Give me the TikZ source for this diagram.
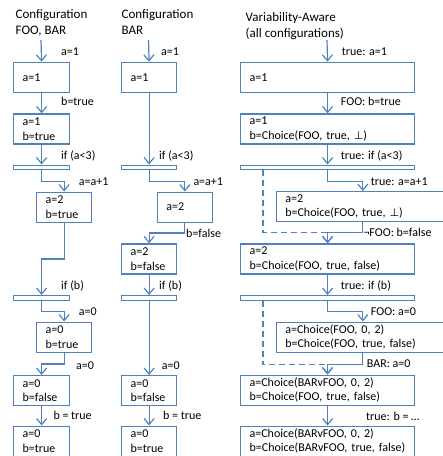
\documentclass[tikz,border=0pt]{standalone}
\usepackage{fontspec}
\setmainfont{Carlito}
\newfontfamily\symfont{DejaVu Sans}
\usetikzlibrary{arrows.meta}
\definecolor{flowblue}{RGB}{79,129,189}
\newcommand{\bottomval}{{\symfont\fontsize{11}{14.6}\selectfont ⊥}}

\begin{document}
\begin{tikzpicture}[x=1pt, y=-1pt,
	every node/.style={font=\fontsize{12}{14.6}\selectfont},
	blk/.style={draw=flowblue, line width=1.2pt, fill=white, anchor=north west, minimum height=30pt, inner xsep=9pt, inner ysep=0pt, align=left},
	bar/.style={draw=flowblue, line width=1.2pt, fill=white, anchor=north west, minimum height=4.5pt, inner sep=0pt},
	flow/.style={draw=flowblue, line width=1.2pt, -{Straight Barb[length=6pt,width=10pt]}},
	skip/.style={flow, dash pattern=on 6pt off 4pt},
	lbl/.style={anchor=base west, inner sep=0pt},
	ttl/.style={anchor=north west, inner sep=0pt, align=left, font=\fontsize{13}{16}\selectfont}]
	\useasboundingbox (0, 0) rectangle (443, 456);
	% Paths, nodes and wires:
	\node[ttl] (t1) at (15.5, 9.5){Configuration\\FOO, BAR};
	\node[ttl] (t2) at (121.5, 9.5){Configuration\\BAR};
	\node[ttl] (t3) at (245.5, 12){Variability-Aware\\(all configurations)};
	\coordinate (s1) at (41, 40);
	\coordinate (s2) at (148.5, 40);
	\coordinate (s3) at (327, 40);

	% configuration FOO, BAR
	\node[blk, text width=38pt] (c1a) at (13, 61.7){a=1};
	\node[blk, text width=38pt] (c1b) at (13, 113.3){a=1\\b=true};
	\node[bar, minimum width=56pt] (c1if) at (13, 164.5){};
	\node[blk, text width=37pt] (c1c) at (36, 191.5){a=2\\b=true};
	\node[bar, minimum width=56pt] (c1ifb) at (13, 295){};
	\node[blk, text width=37pt] (c1d) at (36, 321.5){a=0\\b=true};
	\node[blk, text width=38pt] (c1e) at (13, 375){a=0\\b=false};
	\node[blk, text width=38pt] (c1f) at (13, 425.5){a=0\\b=true};
	\draw[flow] (s1) -- (c1a.north);
	\draw[flow] (c1a.south) -- (c1b.north);
	\draw[flow] (c1b.south) -- (c1if.north);
	\draw[flow] (c1if.south) -- ++(0, 11.5) -| (c1c.north);
	\draw[flow] (c1c.south) -- ++(0, 36.3) -| (c1ifb.north);
	\draw[flow] (c1ifb.south) -- ++(0, 11) -| (c1d.north);
	\draw[flow] (c1d.south) -- ++(0, 11.3) -| (c1e.north);
	\draw[flow] (c1e.south) -- (c1f.north);
	\node[lbl] (l1a) at (61, 55.7){a=1};
	\node[lbl] (l1b) at (61, 105.7){b=true};
	\node[lbl] (l1c) at (61, 159){if (a<3)};
	\node[lbl] (l1d) at (78.7, 185.7){a=a+1};
	\node[lbl] (l1e) at (61, 289){if (b)};
	\node[lbl] (l1f) at (78.7, 315.7){a=0};
	\node[lbl] (l1g) at (76, 369){a=0};
	\node[lbl] (l1h) at (53.3, 419.7){b = true};

	% configuration BAR
	\node[blk, text width=37pt] (c2a) at (121, 61.7){a=1};
	\node[bar, minimum width=55pt] (c2if) at (121, 164.5){};
	\node[blk, text width=37pt] (c2c) at (156.7, 191.5){a=2};
	\node[blk, text width=37pt] (c2d) at (121, 243.3){a=2\\b=false};
	\node[bar, minimum width=55pt] (c2ifb) at (121, 295){};
	\node[blk, text width=37pt] (c2e) at (121, 375){a=0\\b=false};
	\node[blk, text width=37pt] (c2f) at (121, 425.5){a=0\\b=true};
	\draw[flow] (s2) -- (c2a.north);
	\draw[flow] (c2a.south) -- (c2if.north);
	\draw[flow] (c2if.south) -- ++(0, 11.5) -| (c2c.north);
	\draw[flow] (c2c.south) -- ++(0, 10.3) -| (c2d.north);
	\draw[flow] (c2d.south) -- (c2ifb.north);
	\draw[flow] (c2ifb.south) -- (c2e.north);
	\draw[flow] (c2e.south) -- (c2f.north);
	\node[lbl] (l2a) at (161, 55.7){a=1};
	\node[lbl] (l2b) at (159, 159){if (a<3)};
	\node[lbl] (l2c) at (193.3, 185.7){a=a+1};
	\node[lbl] (l2d) at (186, 237){b=false};
	\node[lbl] (l2e) at (159, 289){if (b)};
	\node[lbl] (l2f) at (161.7, 369){a=0};
	\node[lbl] (l2g) at (163, 419.7){b = true};

	% variability-aware
	\node[blk, text width=156pt] (c3a) at (240, 61.7){a=1};
	\node[blk, text width=156pt] (c3b) at (240, 113.3){a=1\\b=Choice(FOO, true, \bottomval)};
	\node[bar, minimum width=174pt] (c3if) at (240, 164.5){};
	\node[blk, text width=155pt] (c3c) at (275.7, 191){a=2\\b=Choice(FOO, true, \bottomval)};
	\node[blk, text width=156pt] (c3d) at (240, 243.3){a=2\\b=Choice(FOO, true, false)};
	\node[bar, minimum width=174pt] (c3ifb) at (240, 295){};
	\node[blk, text width=155pt] (c3e) at (275.7, 321.5){a=Choice(FOO, 0, 2)\\b=Choice(FOO, true, false)};
	\node[blk, text width=156pt] (c3f) at (240, 374.5){a=Choice(BARvFOO, 0, 2)\\b=Choice(FOO, true, false)};
	\node[blk, text width=156pt] (c3g) at (240, 425.5){a=Choice(BARvFOO, 0, 2)\\b=Choice(BARvFOO, true, false)};
	\draw[flow] (s3) -- (c3a.north);
	\draw[flow] (c3a.south) -- (c3b.north);
	\draw[flow] (c3b.south) -- (c3if.north);
	\draw[flow] (c3if.south) -- ++(0, 11.5) -| (c3c.north);
	\draw[flow] (c3c.south) -- ++(0, 10) coordinate (j1) -| (c3d.north);
	\draw[skip] ([xshift=23pt]c3if.south west) |- (c3d.north |- j1) -- (c3d.north);
	\draw[flow] (c3d.south) -- (c3ifb.north);
	\draw[flow] (c3ifb.south) -- ++(0, 11) -| (c3e.north);
	\draw[flow] (c3e.south) -- ++(0, 12) coordinate (j2) -| (c3f.north);
	\draw[skip] ([xshift=23pt]c3ifb.south west) |- (c3f.north |- j2) -- (c3f.north);
	\draw[flow] (c3f.south) -- (c3g.north);
	\node[lbl] (l3a) at (341.7, 55.7){true: a=1};
	\node[lbl] (l3b) at (340.7, 105.7){FOO: b=true};
	\node[lbl] (l3c) at (340.7, 159){true: if (a<3)};
	\node[lbl] (l3d) at (370.7, 185.7){true: a=a+1};
	\node[lbl] (l3e) at (363.3, 236.7){¬FOO: b=false};
	\node[lbl] (l3f) at (340.7, 289){true: if (b)};
	\node[lbl] (l3g) at (370.7, 315.7){FOO: a=0};
	\node[lbl] (l3h) at (366.7, 367.3){BAR: a=0};
	\node[lbl] (l3i) at (366, 420){true: b = \dots};
\end{tikzpicture}
\end{document}
